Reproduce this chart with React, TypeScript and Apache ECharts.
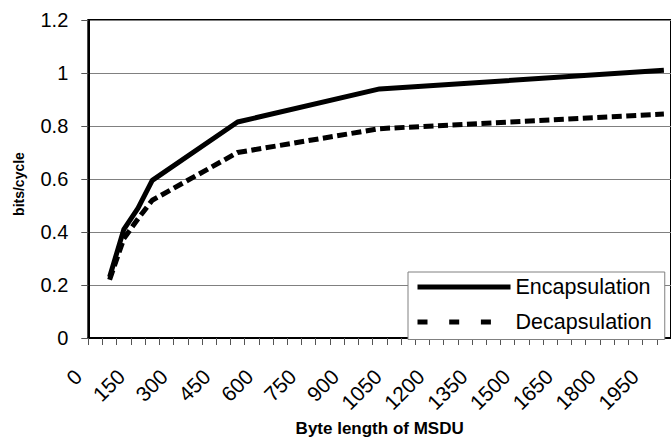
import React, { useEffect, useRef } from "react";
import * as echarts from "echarts";

// x categories: MSDU byte length, one slot per 50 bytes (0 .. 2000)
const CATEGORY_STEP = 50;
const CATEGORY_COUNT = 41;
const CATEGORIES: string[] = Array.from({ length: CATEGORY_COUNT }, (_, i) => String(i * CATEGORY_STEP));
// tick-label slots (placed on slot boundaries, every third one shown)
const TICK_LABELS: string[] = Array.from({ length: CATEGORY_COUNT + 1 }, (_, i) => String(i * CATEGORY_STEP));

// measured points
const SIZES = ["50", "100", "150", "200", "500", "1000", "2000"];
const ENCAPSULATION = [0.23, 0.41, 0.49, 0.595, 0.815, 0.94, 1.01];
const DECAPSULATION = [0.22, 0.375, 0.45, 0.52, 0.7, 0.79, 0.845];

const Y_MIN = 0;
const Y_MAX = 1.2;
const Y_STEP = 0.2;

const FONT = '"Liberation Sans", Arial, Helvetica, sans-serif';

export default function App() {
  const ref = useRef<HTMLDivElement>(null);

  useEffect(() => {
    if (!ref.current) return;
    const chart = echarts.init(ref.current, undefined, { renderer: "svg" });

    const gridTop = 20;
    const gridBottom = 102;

    chart.setOption({
      animation: false,
      backgroundColor: "#ffffff",
      textStyle: { fontFamily: FONT, color: "#000" },
      grid: [
        {
          left: 88.3,
          right: -2.4,
          top: gridTop,
          bottom: gridBottom,
          show: true,
          borderColor: "#000",
          borderWidth: 2,
          backgroundColor: "transparent",
        },
        {
          left: 78.3,
          right: 7.6,
          top: gridTop,
          bottom: gridBottom,
          show: false,
        },
      ],
      xAxis: [
        {
          type: "category",
          gridIndex: 0,
          data: CATEGORIES,
          boundaryGap: true,
          name: "Byte length of MSDU",
          nameLocation: "middle",
          nameGap: 82,
          nameTextStyle: { fontFamily: FONT, fontSize: 17, fontWeight: "bold", color: "#000" },
          axisLine: { show: true, lineStyle: { color: "#000", width: 2 } },
          axisTick: { show: true, interval: 0, length: 7, lineStyle: { color: "#555", width: 1 } },
          axisLabel: { show: false },
          splitLine: { show: false },
        },
        {
          type: "category",
          gridIndex: 1,
          data: TICK_LABELS,
          boundaryGap: false,
          axisLine: { show: false },
          axisTick: { show: false },
          splitLine: { show: false },
          axisLabel: {
            show: true,
            interval: 2,
            rotate: 45,
            margin: 33,
            fontFamily: FONT,
            fontSize: 21,
            color: "#000",
          },
        },
      ],
      yAxis: [
        {
          type: "value",
          gridIndex: 0,
          min: Y_MIN,
          max: Y_MAX,
          interval: Y_STEP,
          name: "bits/cycle",
          nameLocation: "middle",
          nameGap: 62,
          nameRotate: 90,
          nameTextStyle: {
            fontFamily: FONT,
            fontSize: 14,
            fontWeight: "bold",
            color: "#000",
            padding: [0, 10, 0, 0],
          },
          axisLine: { show: true, lineStyle: { color: "#000", width: 2 } },
          axisTick: { show: true, length: 7, lineStyle: { color: "#555", width: 1 } },
          axisLabel: { margin: 20, fontFamily: FONT, fontSize: 20, color: "#000" },
          splitLine: { show: true, lineStyle: { color: "#808080", width: 1 } },
        },
        {
          type: "value",
          gridIndex: 1,
          show: false,
          min: Y_MIN,
          max: Y_MAX,
        },
      ],
      legend: {
        show: true,
        orient: "vertical",
        left: 408,
        top: 272,
        backgroundColor: "#ffffff",
        borderColor: "#808080",
        borderWidth: 1,
        borderRadius: 0,
        padding: [4, 13, 6.5, 7],
        itemWidth: 93,
        itemHeight: 14,
        itemGap: 13,
        selectedMode: false,
        itemStyle: { opacity: 0 },
        lineStyle: { width: 5, color: "#000" },
        textStyle: { fontFamily: FONT, fontSize: 21.5, color: "#000" },
        data: [
          { name: "Encapsulation", itemStyle: { opacity: 0 }, lineStyle: { width: 5, type: "solid" } },
          { name: "Decapsulation", itemStyle: { opacity: 0 }, lineStyle: { width: 5, type: [10, 21.7] } },
        ],
      },
      series: [
        {
          name: "Encapsulation",
          type: "line",
          xAxisIndex: 0,
          yAxisIndex: 0,
          data: SIZES.map((s, i) => [s, ENCAPSULATION[i]]),
          symbol: "none",
          showSymbol: false,
          itemStyle: { color: "#000" },
          lineStyle: { color: "#000", width: 5, join: "round" },
          z: 3,
        },
        {
          name: "Decapsulation",
          type: "line",
          xAxisIndex: 0,
          yAxisIndex: 0,
          data: SIZES.map((s, i) => [s, DECAPSULATION[i]]),
          symbol: "none",
          showSymbol: false,
          itemStyle: { color: "#000" },
          lineStyle: { color: "#000", width: 5, type: [10, 4.5] },
          z: 2,
        },
      ],
    });

    return () => chart.dispose();
  }, []);

  return (
    <div
      ref={ref}
      style={{ position: "absolute", left: 0, top: 0, width: 671, height: 442, background: "#fff" }}
    />
  );
}
